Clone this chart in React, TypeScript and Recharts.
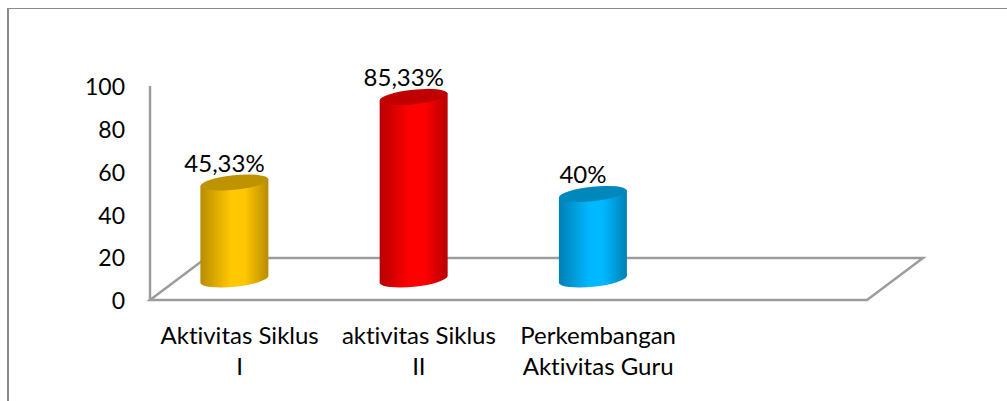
import { BarChart, Bar, XAxis, YAxis, LabelList, usePlotArea } from "recharts";

const categories = ["Aktivitas Siklus\nI", "aktivitas Siklus\nII", "Perkembangan\nAktivitas Guru", ""];
const values = [45.33, 85.33, 40, null];
const valueLabels = ["45,33%", "85,33%", "40%", ""];
const yTicks = [0, 20, 40, 60, 80, 100];

const bodyColors = ["#FFC800", "#FF0000", "#00B8FF"];
const edgeColors = ["#B98C00", "#B80000", "#0080B4"];
const topColors = ["#BF9200", "#C00000", "#0088BC"];

const data = categories.map((name, i) => ({ name, value: values[i], label: valueLabels[i] }));

const FONT = "Lato, sans-serif";
const FONT_SIZE = 24;
const WALL = "#9C9C9C";
// 3d depth of the floor and where the cylinders sit on it
const DEPTH_X = 56;
const DEPTH_Y = 42;
const SHIFT_X = -5.6;
const SHIFT_Y = -20.5;
const noLigatures = { fontVariantLigatures: "none" } as const;

function Floor() {
  const plot = usePlotArea();
  if (!plot) return null;
  const bottom = plot.y + plot.height;
  const right = plot.x + plot.width;
  const points = [
    [plot.x, bottom],
    [plot.x + DEPTH_X, bottom - DEPTH_Y],
    [right + DEPTH_X, bottom - DEPTH_Y],
    [right, bottom],
  ];
  return (
    <polygon
      points={points.map((p) => p.join(",")).join(" ")}
      fill="none"
      stroke={WALL}
      strokeWidth={2.5}
    />
  );
}

function Cylinder(props: any) {
  const { x, y, width, height, index } = props;
  if (!height) return null;
  const x0 = x + SHIFT_X;
  const x1 = x0 + width;
  const top = y + SHIFT_Y;
  const base = y + height + SHIFT_Y;
  const tilt = 3.5;
  const rx = width / 2 + 0.2;
  const ry = 7.5;
  const angle = -6;
  return (
    <g>
      <path
        d={`M${x0},${top + tilt} L${x0},${base + tilt} A${rx},${ry} ${angle} 0 0 ${x1},${base - tilt} L${x1},${top - tilt} Z`}
        fill={`url(#cyl-${index})`}
      />
      <path
        d={`M${x0},${top + tilt} A${rx},${ry} ${angle} 0 1 ${x1},${top - tilt} A${rx},${ry} ${angle} 0 1 ${x0},${top + tilt} Z`}
        fill={topColors[index]}
      />
    </g>
  );
}

function CategoryTick(props: any) {
  const { x, payload } = props;
  return (
    <text textAnchor="middle" fontFamily={FONT} fontSize={FONT_SIZE} fill="#000" style={noLigatures}>
      {String(payload.value)
        .split("\n")
        .map((line, i) => (
          <tspan key={i} x={x} y={344 + i * 31}>
            {line}
          </tspan>
        ))}
    </text>
  );
}

function ValueLabel(props: any) {
  const { x, y, width, value } = props;
  if (!value) return null;
  return (
    <text
      x={x + width / 2 - 15.5}
      y={y - 31}
      textAnchor="middle"
      fontFamily={FONT}
      fontSize={FONT_SIZE}
      fill="#000"
    >
      {value}
    </text>
  );
}

export default function App() {
  return (
    <div style={{ position: "absolute", left: 0, top: 0, width: 1007, height: 401, background: "#fff" }}>
      <div
        style={{
          position: "absolute",
          left: 7,
          top: 8,
          right: 0,
          bottom: 0,
          borderTop: "1px solid #8a8a8a",
          borderLeft: "2px solid #8a8a8a",
        }}
      />
      <div style={{ position: "absolute", left: 0, top: 0 }}>
        <BarChart
          width={1007}
          height={401}
          data={data}
          barSize={68}
          margin={{ top: 86, right: 140, bottom: 0, left: 0 }}
        >
          <defs>
            {bodyColors.map((color, i) => (
              <linearGradient key={i} id={`cyl-${i}`} x1="0" y1="0" x2="1" y2="0">
                <stop offset="0%" stopColor={edgeColors[i]} />
                <stop offset="45%" stopColor={color} />
                <stop offset="65%" stopColor={color} />
                <stop offset="100%" stopColor={edgeColors[i]} />
              </linearGradient>
            ))}
          </defs>
          <Floor />
          <XAxis
            dataKey="name"
            height={101}
            interval={0}
            axisLine={false}
            tickLine={false}
            tick={<CategoryTick />}
          />
          <YAxis
            width={150}
            domain={[0, 100]}
            ticks={yTicks}
            tickSize={0}
            tickMargin={25}
            axisLine={{ stroke: WALL, strokeWidth: 2.5 }}
            tickLine={false}
            tick={{ fontFamily: FONT, fontSize: 23, fill: "#000", dy: 1 }}
          />
          <Bar dataKey="value" shape={<Cylinder />} isAnimationActive={false}>
            <LabelList dataKey="label" content={<ValueLabel />} />
          </Bar>
        </BarChart>
      </div>
    </div>
  );
}
